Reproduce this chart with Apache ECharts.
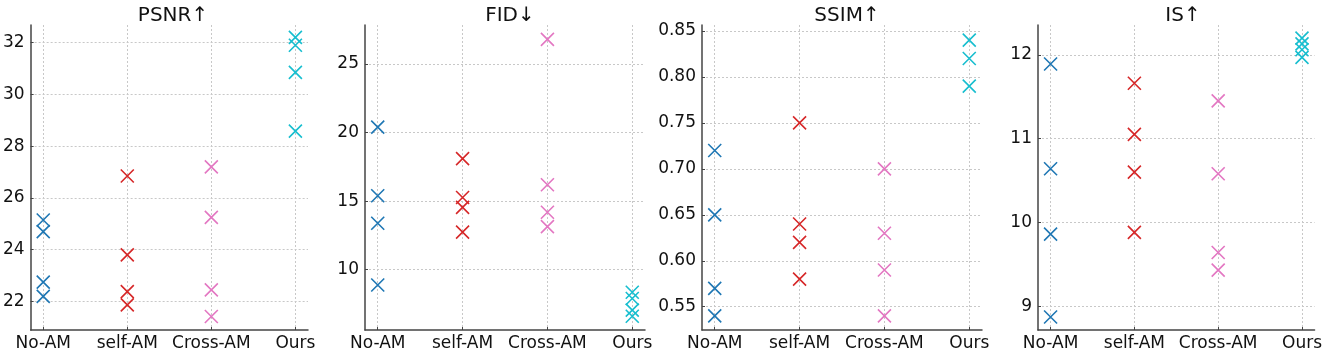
<!DOCTYPE html>
<html>
<head>
<meta charset="utf-8">
<script src="https://cdn.jsdelivr.net/npm/echarts@6/dist/echarts.min.js"></script>
<style>
  html, body { margin: 0; padding: 0; background: #fff; }
  #main { width: 1325px; height: 352px; }
</style>
</head>
<body>
<div id="main"></div>
<script>
let myChart = echarts.init(document.getElementById('main'))

// categories on every panel
const categories = ['No-AM', 'self-AM', 'Cross-AM', 'Ours']
const titles = ['PSNR↑', 'FID↓', 'SSIM↑', 'IS↑']

// values per category
const psnr = [[25.15, 24.7, 22.75, 22.2], [26.85, 23.8, 22.38, 21.87], [27.2, 25.25, 22.45, 21.42], [32.2, 31.9, 30.85, 28.58]]
const fid = [[20.4, 15.39, 13.39, 8.88], [18.1, 15.27, 14.55, 12.74], [26.8, 16.2, 14.19, 13.14], [8.35, 7.9, 7.05, 6.6]]
const ssim = [[0.72, 0.65, 0.57, 0.54], [0.75, 0.64, 0.62, 0.58], [0.70, 0.63, 0.59, 0.54], [0.84, 0.82, 0.79]]
const is = [[11.89, 10.64, 9.86, 8.87], [11.66, 11.05, 10.6, 9.88], [11.45, 10.58, 9.64, 9.43], [12.2, 12.13, 12.06, 11.97]]

// tick labels
const psnrTicks = [22, 24, 26, 28, 30, 32]
const fidTicks = [10, 15, 20, 25]
const ssimTicks = [0.55, 0.60, 0.65, 0.70, 0.75, 0.80, 0.85]
const isTicks = [9, 10, 11, 12]

const metrics = [psnr, fid, ssim, is]
const ticks = [psnrTicks, fidTicks, ssimTicks, isTicks]
const yRange = [[20.9, 32.68], [5.6, 27.85], [0.5247, 0.8565], [8.715, 12.356]]
const gridLeft = [28, 365, 702, 1038]
const colors = ['#1f77b4', '#d62728', '#e377c2', '#17becf']
const font = 'DejaVu Sans'
const axisColor = '#444'

let grid = [], xAxis = [], yAxis = [], title = [], series = []

metrics.forEach((m, i) => {
    grid.push({left: gridLeft[i], top: 25, width: 280, height: 306})
    title.push({
        text: titles[i],
        left: gridLeft[i] + 140,
        textAlign: 'center',
        top: 1,
        textStyle: {fontFamily: font, fontSize: 20, fontWeight: 'normal', color: '#111'}
    })
    xAxis.push({
        type: 'value', gridIndex: i, min: -0.15, max: 3.15,
        axisLine: {onZero: false, lineStyle: {color: axisColor, width: 1.5}},
        axisTick: {show: true, inside: true, length: 3, customValues: [0, 1, 2, 3], lineStyle: {color: axisColor}},
        axisLabel: {
            customValues: [0, 1, 2, 3], margin: 5,
            fontFamily: font, fontSize: 17, color: '#111',
            formatter: v => categories[Math.round(v)]
        },
        splitLine: {show: true, lineStyle: {color: '#c8c8c8', type: [2, 2], width: 1}}
    })
    yAxis.push({
        type: 'value', gridIndex: i, min: yRange[i][0], max: yRange[i][1],
        axisLine: {show: true, onZero: false, lineStyle: {color: axisColor, width: 1.5}},
        axisTick: {show: true, inside: true, length: 3, customValues: ticks[i], lineStyle: {color: axisColor}},
        axisLabel: {
            customValues: ticks[i], margin: 6,
            fontFamily: font, fontSize: 17, color: '#111',
            formatter: v => i === 2 ? v.toFixed(2) : String(Math.round(v))
        },
        splitLine: {show: true, lineStyle: {color: '#c8c8c8', type: [2, 2], width: 1}}
    })
    m.forEach((vals, c) => {
        series.push({
            type: 'scatter', xAxisIndex: i, yAxisIndex: i,
            symbol: 'path://M0,0L10,10M0,10L10,0',
            symbolSize: 13,
            itemStyle: {color: 'none', borderColor: colors[c], borderWidth: 1.6, opacity: 1},
            data: vals.map(v => [c, v]),
            silent: true
        })
    })
})

let option = {
    animation: false,
    title: title,
    grid: grid,
    xAxis: xAxis,
    yAxis: yAxis,
    series: series
}

myChart.setOption(option)
</script>
</body>
</html>
